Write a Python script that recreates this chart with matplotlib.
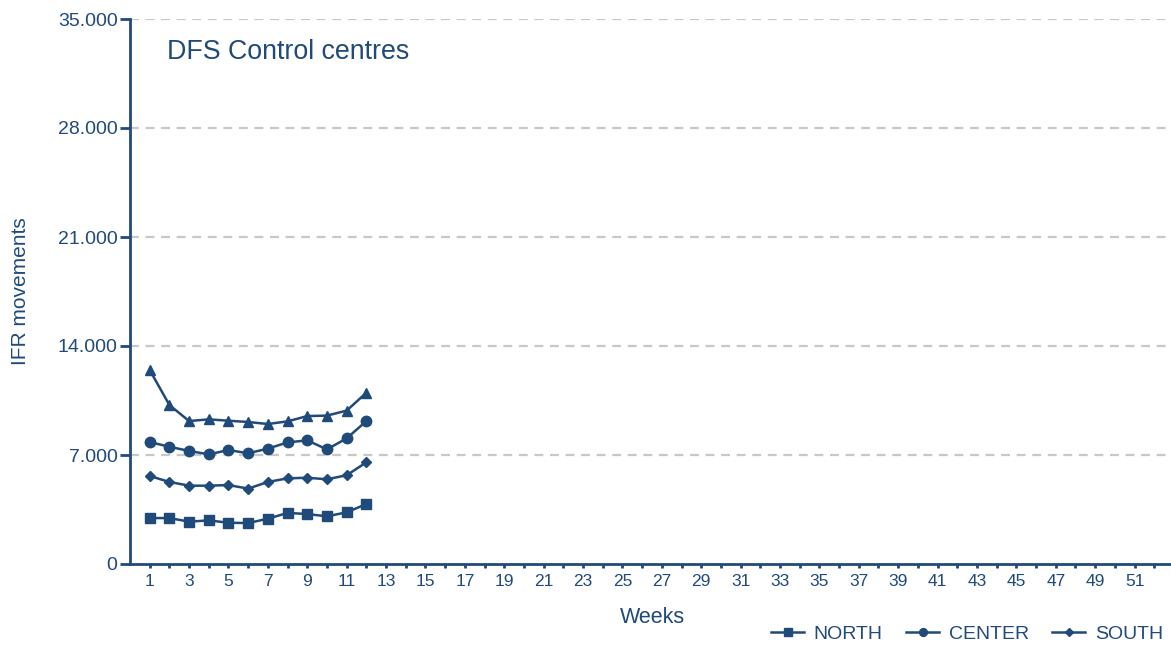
import numpy as np
import matplotlib
matplotlib.use('Agg')
import matplotlib.pyplot as plt
from matplotlib.ticker import FuncFormatter

plt.rcParams['font.family'] = ['Liberation Sans', 'DejaVu Sans']

BLUE = '#1f4a7a'
GRID = '#c8c8c8'

# weekly IFR movements, weeks 1-12
weeks = np.arange(1, 13)
north = [2950, 2950, 2720, 2800, 2650, 2630, 2910, 3280, 3210, 3060, 3320, 3850]
center = [7830, 7530, 7260, 7040, 7320, 7110, 7410, 7810, 7940, 7360, 8070, 9180]
south = [5650, 5270, 5030, 5030, 5070, 4840, 5270, 5500, 5540, 5440, 5700, 6530]
total = [12460, 10210, 9180, 9290, 9200, 9120, 8990, 9160, 9500, 9530, 9850, 11000]

y_ticks = [0, 7000, 14000, 21000, 28000, 35000]
x_ticks = list(range(1, 53, 2))

fig = plt.figure(figsize=(11.71, 6.46), dpi=100)
ax = fig.add_axes([130 / 1171, 82 / 646, 1 - 130 / 1171, (564 - 19) / 646])

ax.plot(weeks, north, '-s', color=BLUE, lw=1.8, ms=7.5, label='NORTH', zorder=3)
ax.plot(weeks, center, '-o', color=BLUE, lw=1.8, ms=7.5, label='CENTER', zorder=3)
ax.plot(weeks, south, '-D', color=BLUE, lw=1.8, ms=5.5, label='SOUTH', zorder=3)
ax.plot(weeks, total, '-^', color=BLUE, lw=1.8, ms=7.5, label='_total', zorder=3)

ax.set_xlim(0, 52.85)
ax.set_ylim(0, 35000)

ax.set_yticks(y_ticks)
ax.yaxis.set_major_formatter(FuncFormatter(lambda v, p: f'{int(v):,}'.replace(',', '.')))
ax.set_xticks(x_ticks)
ax.set_xticks(range(1, 53), minor=True)

for yv in y_ticks[1:]:
    ax.axhline(yv, color=GRID, lw=1.6, ls=(0, (4, 3)), zorder=1)

for s in ['top', 'right']:
    ax.spines[s].set_visible(False)
for s in ['left', 'bottom']:
    ax.spines[s].set_color(BLUE)
    ax.spines[s].set_linewidth(2)

ax.tick_params(axis='y', colors=BLUE, labelsize=14, length=7, width=2, pad=2)
ax.tick_params(axis='x', which='major', colors=BLUE, labelsize=12.5, length=3, width=2, pad=4)
ax.tick_params(axis='x', which='minor', colors=BLUE, length=3, width=2)

ax.set_xlabel('Weeks', color=BLUE, fontsize=15.5)
ax.xaxis.set_label_coords((652 - 130) / 1041, -0.079)
ax.set_ylabel('IFR movements', color=BLUE, fontsize=15)
ax.yaxis.set_label_coords(-0.096, 0.5)

ax.text(37 / 1041, 0.94, 'DFS Control centres', transform=ax.transAxes,
        color=BLUE, fontsize=19.3, va='center', ha='left')

leg = ax.legend(loc='center right', bbox_to_anchor=(1.0, -0.128), ncol=3,
                frameon=False, fontsize=14, handlelength=1.7, columnspacing=1.2,
                handletextpad=0.5, borderaxespad=0, markerscale=0.75)
for t in leg.get_texts():
    t.set_color(BLUE)

fig.savefig('out.png', dpi=100)
